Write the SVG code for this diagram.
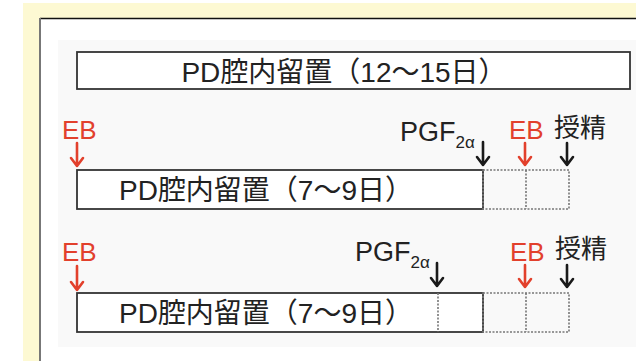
<svg xmlns="http://www.w3.org/2000/svg" width="636" height="361" viewBox="0 0 636 361">
<style>
text{font-family:"Liberation Sans","Noto Sans CJK JP",sans-serif;fill:#222}
.main{font-size:28px;text-anchor:middle}
.eb{font-size:26px;fill:#e2402c}
.lbl{font-size:26px}
.pgf{font-size:27px}
.sub{font-size:17px}
.box{fill:#fff;stroke:#333;stroke-width:1.8}
.dot{fill:none;stroke:#777;stroke-width:1.6;stroke-dasharray:2 1.5}
.ar{fill:none;stroke-width:2.6;stroke-linecap:round;stroke-linejoin:round}
.red{stroke:#e2402c}
.blk{stroke:#1a1a1a}
</style>
<rect x="0" y="0" width="636" height="361" fill="#fff"/>
<rect x="23" y="3" width="613" height="358" fill="#fdf9d3"/>
<rect x="40" y="18" width="596" height="343" fill="#fff"/>
<rect x="58" y="40" width="578" height="307" fill="#f9f9f9"/>
<line x1="40" y1="18.5" x2="636" y2="18.5" stroke="#111" stroke-width="1.5"/>
<line x1="40" y1="18" x2="40" y2="361" stroke="#777" stroke-width="2"/>

<g id="top-period">
<rect class="box" x="77" y="52" width="553" height="37"/>
<text class="main" x="344" y="82">PD腔内留置（12～15日）</text>
</g>

<g id="row2">
<rect class="box" x="77" y="170" width="406" height="39"/>
<rect class="dot" x="483" y="170" width="86" height="39"/>
<line class="dot" x1="526" y1="170" x2="526" y2="209"/>
<text class="main" x="266" y="200">PD腔内留置（7～9日）</text>
</g>

<g id="row3">
<rect class="box" x="77" y="293" width="406" height="39"/>
<line class="dot" x1="438" y1="293" x2="438" y2="332"/>
<rect class="dot" x="483" y="293" width="86" height="39"/>
<line class="dot" x1="526" y1="293" x2="526" y2="332"/>
<text class="main" x="266" y="323">PD腔内留置（7～9日）</text>
</g>

<g id="labels-row2">
<text class="eb" x="62" y="139">EB</text>
<text class="pgf" x="400" y="141">PGF<tspan class="sub" dy="7">2α</tspan></text>
<text class="eb" x="509" y="139">EB</text>
<text class="lbl" x="554" y="137">授精</text>
</g>

<g id="labels-row3">
<text class="eb" x="62" y="261">EB</text>
<text class="pgf" x="355" y="261">PGF<tspan class="sub" dy="7">2α</tspan></text>
<text class="eb" x="510" y="261">EB</text>
<text class="lbl" x="555" y="258">授精</text>
</g>

<g id="connectors">
<path class="ar red" d="M77 143V166M71 158L77 166L83 158"/>
<path class="ar blk" d="M483 142V165M477 157L483 165L489 157"/>
<path class="ar red" d="M525 143V165M519 157L525 165L531 157"/>
<path class="ar blk" d="M567 143V165M561 157L567 165L573 157"/>
<path class="ar red" d="M77 266V290M71 282L77 290L83 282"/>
<path class="ar blk" d="M437 263V286M431 278L437 286L443 278"/>
<path class="ar red" d="M525 265V287M519 279L525 287L531 279"/>
<path class="ar blk" d="M567 265V287M561 279L567 287L573 279"/>
</g>
</svg>
